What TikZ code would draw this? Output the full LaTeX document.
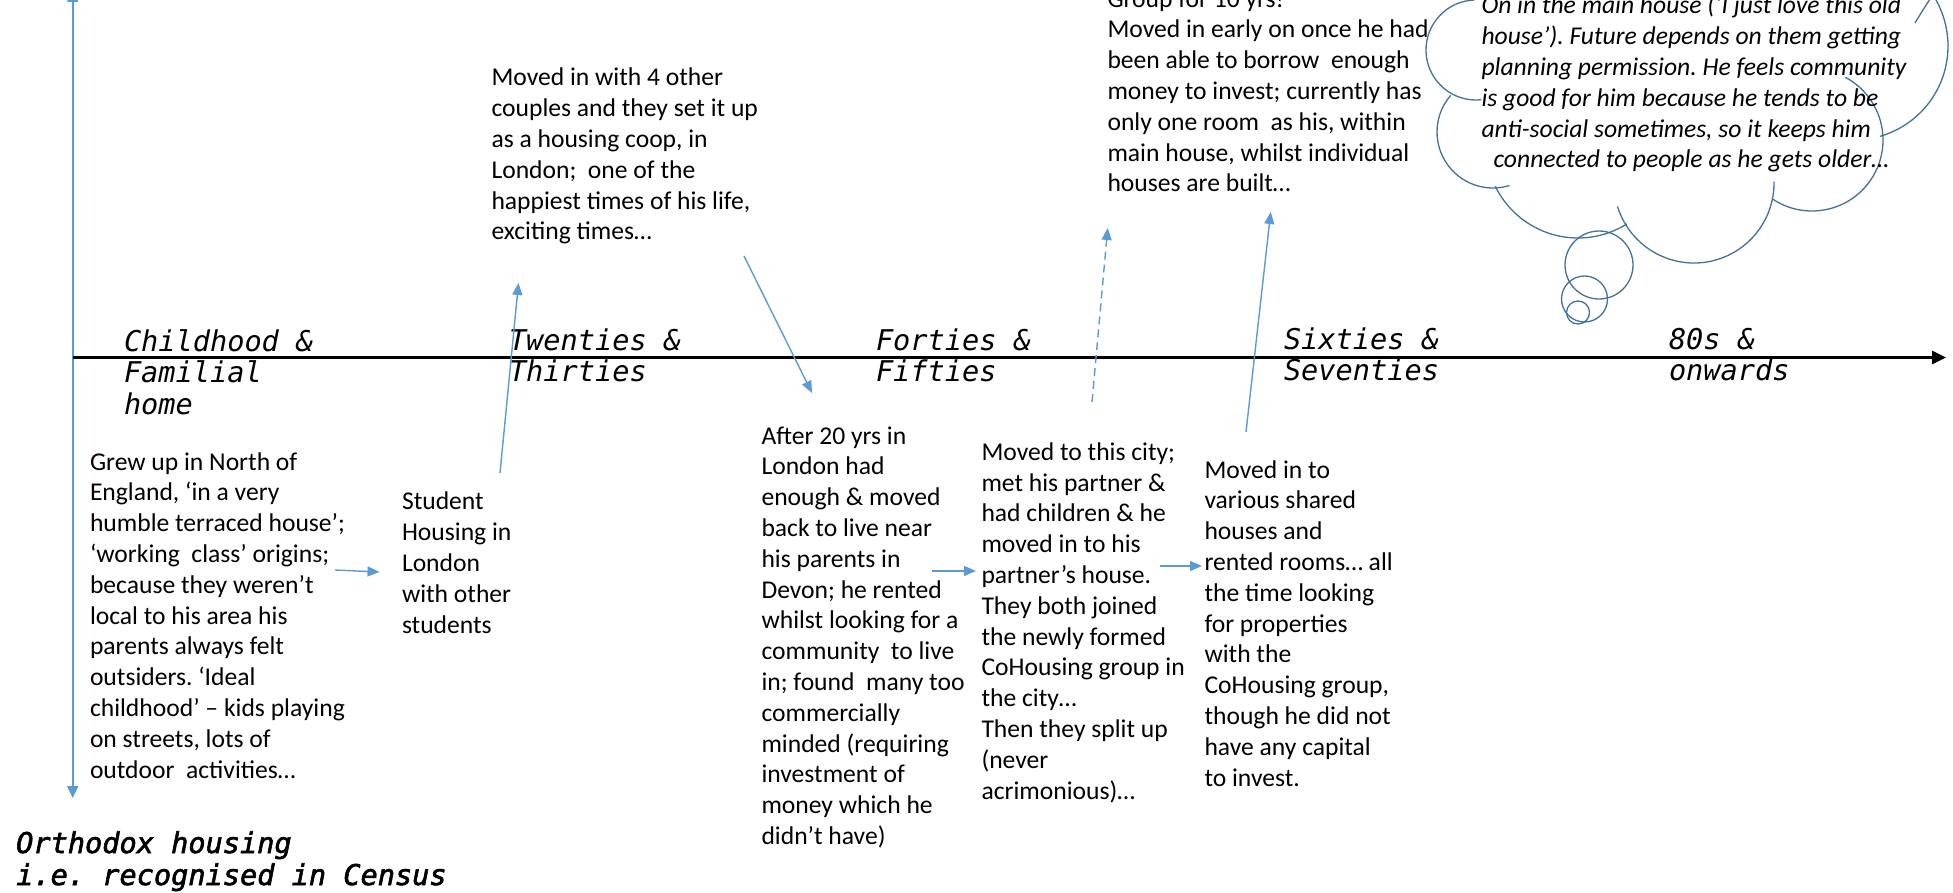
\documentclass[tikz,border=0pt]{standalone}
\usepackage{fontspec}
\setmainfont{Carlito}
\newfontfamily\labelfont{DejaVu Sans Mono}
\newfontface\orthofont{DejaVu Sans Mono Oblique}[FakeBold=2]
\usetikzlibrary{arrows.meta}
\definecolor{linkblue}{HTML}{5B9BD5}
\definecolor{cloudblue}{HTML}{41719C}
\frenchspacing

\begin{document}
\begin{tikzpicture}[x=1pt,y=-1pt,
  % multi-line nodes are placed by the baseline of their last line
  story/.style={anchor=base west, inner sep=0pt, outer sep=0pt, align=left,
    font=\fontsize{25.6}{30.8}\selectfont},
  era/.style={anchor=base west, inner sep=0pt, outer sep=0pt, align=left,
    font=\labelfont\itshape\fontsize{28.6}{31.5}\selectfont},
  link/.style={draw=linkblue, line width=1.4pt, -{Triangle[length=12pt,width=10pt]}},
  dashlink/.style={link, dash pattern=on 8pt off 5pt},
  cloudline/.style={draw=cloudblue, line width=1.3pt}
]
\useasboundingbox (0,0) rectangle (1953,893);
\clip (0,0) rectangle (1953,893);

% time axis and the vertical housing axis
\coordinate (origin) at (72.7,357.5);
\coordinate (axisend) at (1946,357.5);
\coordinate (vtop) at (72.7,-10);
\coordinate (vbot) at (72.7,798);
\draw[draw=linkblue, line width=2pt,
  {Triangle[length=12pt,width=11pt]}-{Triangle[length=12pt,width=11pt]}] (vtop) -- (vbot);
\draw[line width=3pt, -{Triangle[length=14pt,width=13pt]}] (origin) -- (axisend);

% life stages along the axis
\node[era] (eraA) at (124,414) {Childhood \&\\Familial\\home};
\node[era] (eraB) at (509,381.5) {Twenties \&\\Thirties};
\node[era] (eraC) at (876,381.5) {Forties \&\\Fifties};
\node[era] (eraD) at (1284,380.5) {Sixties \&\\Seventies};
\node[era] (eraE) at (1669,380.5) {80s \&\\onwards};
\node[anchor=base west, inner sep=0pt, align=left,
  font=\orthofont\fontsize{28.6}{32}\selectfont] (ortho) at (16,885)
  {Orthodox housing\\i.e. recognised in Census};

% housing stories
\node[story] (grew) at (90,778) {Grew up in North of\\England, ‘in a very\\humble terraced house’;\\‘working\ \ class’ origins;\\because they weren’t\\local to his area his\\parents always felt\\outsiders. ‘Ideal\\childhood’ – kids playing\\on streets, lots of\\outdoor\ \ activities…};
\node[story] (student) at (402,633) {Student\\Housing in\\London\\with other\\students};
\node[story] (coop) at (491.5,240) {Moved in with 4 other\\couples and they set it up\\as a housing coop, in\\London;\ \ one of the\\happiest times of his life,\\exciting times…};
\node[story] (after) at (761.5,844.5) {After 20 yrs in\\London had\\enough \& moved\\back to live near\\his parents in\\Devon; he rented\\whilst looking for a\\community\ \ to live\\in; found\ \ many too\\commercially\\minded (requiring\\investment of\\money which he\\didn’t have)};
\node[story] (city) at (981.5,799) {Moved to this city;\\met his partner \&\\had children \& he\\moved in to his\\partner’s house.\\They both joined\\the newly formed\\CoHousing group in\\the city…\\Then they split up\\(never\\acrimonious)…};
\node[story] (shared) at (1204.5,786) {Moved in to\\various shared\\houses and\\rented rooms… all\\the time looking\\for properties\\with the\\CoHousing group,\\though he did not\\have any capital\\to invest.};
\node[story] (group) at (1107.5,192) {Group for 10 yrs!\\Moved in early on once he had\\been able to borrow\ \ enough\\money to invest; currently has\\only one room\ \ as his, within\\main house, whilst individual\\houses are built…};

% thought cloud
\draw[cloudline] (1476,50) ++(268:50) arc[start angle=268, end angle=84, radius=50];
\draw[cloudline] (1493,132) ++(221:56) arc[start angle=221, end angle=73, radius=56];
\draw[cloudline] (1578,146) ++(154:92) arc[start angle=154, end angle=58, radius=92];
\draw[cloudline] (1694,183) ++(163:80) arc[start angle=163, end angle=-1, radius=80];
\draw[cloudline] (1812,140) ++(124:71) arc[start angle=124, end angle=-62, radius=71];
\draw[cloudline] (1854,46) ++(74:94) arc[start angle=74, end angle=-40, radius=94];
\draw[cloudline] (1915,23) .. controls (1921,13) .. (1932,-4);
\draw[cloudline] (1599,265) circle[radius=34];
\draw[cloudline] (1584.5,299) circle[radius=23];
\draw[cloudline] (1578,312.5) circle[radius=11.5];
\node[story, font=\itshape\fontsize{25.6}{30.8}\selectfont] (thought) at (1481.5,168)
  {On in the main house (‘I just love this old\\house’). Future depends on them getting\\planning permission. He feels community\\is good for him because he tends to be\\anti-social sometimes, so it keeps him\\\hspace*{12pt}connected to people as he gets older…};

% moves between homes
\coordinate (grew-out) at (335,570);
\coordinate (student-in) at (379.5,572);
\coordinate (student-out) at (500,473);
\coordinate (coop-in) at (518.5,283);
\coordinate (coop-out) at (744,256);
\coordinate (after-in) at (812,393);
\coordinate (after-out) at (932,571);
\coordinate (city-in) at (976,571);
\coordinate (city-up) at (1092,402);
\coordinate (group-in-a) at (1107.7,228);
\coordinate (city-out) at (1160,566);
\coordinate (shared-in) at (1202,566);
\coordinate (shared-up) at (1246,432);
\coordinate (group-in-b) at (1270.7,212);
\draw[link] (grew-out) -- (student-in);
\draw[link] (student-out) -- (coop-in);
\draw[link] (coop-out) -- (after-in);
\draw[link] (after-out) -- (city-in);
\draw[dashlink] (city-up) -- (group-in-a);
\draw[link] (city-out) -- (shared-in);
\draw[link] (shared-up) -- (group-in-b);
\end{tikzpicture}
\end{document}
